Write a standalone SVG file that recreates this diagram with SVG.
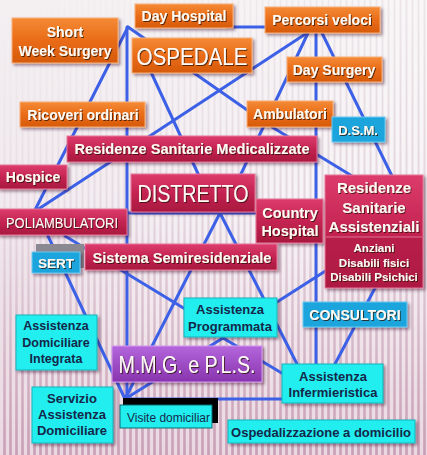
<svg xmlns="http://www.w3.org/2000/svg" width="427" height="455" viewBox="0 0 427 455">
<defs>
  <linearGradient id="bg" x1="0" y1="0" x2="0" y2="1">
    <stop offset="0" stop-color="#f4f0f2"/>
    <stop offset="0.45" stop-color="#ede3e9"/>
    <stop offset="1" stop-color="#d0a8bd"/>
  </linearGradient>
  <pattern id="stripes" width="6" height="10" patternUnits="userSpaceOnUse">
    <rect x="0" y="0" width="3" height="10" fill="#ffffff" fill-opacity="0.55"/>
    <rect x="4" y="0" width="1" height="10" fill="#6a5060" fill-opacity="0.08"/>
  </pattern>
  <linearGradient id="mg" x1="0" y1="0" x2="0.7" y2="1">
    <stop offset="0" stop-color="#000"/>
    <stop offset="0.35" stop-color="#888"/>
    <stop offset="0.6" stop-color="#fff"/>
  </linearGradient>
  <mask id="m">
    <rect width="427" height="455" fill="url(#mg)"/>
  </mask>
  <linearGradient id="og" x1="0" y1="0" x2="0" y2="1">
    <stop offset="0" stop-color="#f48a36"/>
    <stop offset="0.5" stop-color="#ea6c18"/>
    <stop offset="1" stop-color="#d65a0c"/>
  </linearGradient>
  <linearGradient id="cg" x1="0" y1="0" x2="0" y2="1">
    <stop offset="0" stop-color="#dc3c6c"/>
    <stop offset="0.5" stop-color="#c42452"/>
    <stop offset="1" stop-color="#a8183e"/>
  </linearGradient>
  <linearGradient id="pg" x1="0" y1="0" x2="0" y2="1">
    <stop offset="0" stop-color="#b466dc"/>
    <stop offset="1" stop-color="#8834ae"/>
  </linearGradient>
  <filter id="sh" x="-10%" y="-10%" width="130%" height="140%">
    <feDropShadow dx="2" dy="2" stdDeviation="1.5" flood-color="#301020" flood-opacity="0.45"/>
  </filter>
  <filter id="ts" x="-5%" y="-20%" width="110%" height="150%">
    <feDropShadow dx="1" dy="1" stdDeviation="0.4" flood-color="#2a0a00" flood-opacity="0.75"/>
  </filter>
  <style>
    .orange { fill: url(#og); stroke: #f8b07a; stroke-width: 1; filter: url(#sh); }
    .crimson { fill: url(#cg); stroke: #e8789a; stroke-width: 1; filter: url(#sh); }
    .cyan { fill: #22eef0; stroke: #17b4bc; stroke-width: 1; filter: url(#sh); }
    .blue { fill: #1ea4dc; stroke: #6ccaf2; stroke-width: 1; filter: url(#sh); }
    .purple { fill: url(#pg); stroke: #d49af0; stroke-width: 1; filter: url(#sh); }
    .wt { font-family: "Liberation Sans", Arial, sans-serif; font-weight: bold; fill: #fffaf2; text-anchor: middle; filter: url(#ts); }
    .big { font-family: "Liberation Sans", Arial, sans-serif; font-weight: normal; fill: #fffaf6; text-anchor: middle; filter: url(#ts); }
    .nt { font-family: "Liberation Sans", Arial, sans-serif; font-weight: bold; fill: #14284a; text-anchor: middle; }
    .conn line { stroke: #3c60e6; stroke-width: 3; stroke-linecap: round; }
  </style>
</defs>

<rect width="427" height="455" fill="url(#bg)"/>
<rect width="427" height="455" fill="url(#stripes)" mask="url(#m)"/>

<g id="connectors" class="conn">
  <line x1="128" y1="27" x2="35" y2="210"/>
  <line x1="127" y1="27" x2="127" y2="400"/>
  <line x1="128" y1="27" x2="250" y2="112"/>
  <line x1="228" y1="27" x2="270" y2="27"/>
  <line x1="150" y1="70" x2="200" y2="178"/>
  <line x1="307" y1="33" x2="37" y2="210"/>
  <line x1="308" y1="33" x2="240" y2="176"/>
  <line x1="316" y1="33" x2="316" y2="364"/>
  <line x1="322" y1="33" x2="392" y2="176"/>
  <line x1="272" y1="127" x2="352" y2="176"/>
  <line x1="127" y1="213" x2="257" y2="213"/>
  <line x1="220" y1="213" x2="125" y2="399"/>
  <line x1="220" y1="213" x2="297" y2="364"/>
  <line x1="65" y1="236" x2="190" y2="312"/>
  <line x1="48" y1="236" x2="125" y2="399"/>
  <line x1="223" y1="338" x2="125" y2="399"/>
  <line x1="223" y1="338" x2="285" y2="375"/>
  <line x1="125" y1="399" x2="284" y2="399"/>
  <line x1="277" y1="302" x2="327" y2="270"/>
  <line x1="375" y1="288" x2="335" y2="364"/>
</g>

<g id="short-week-surgery">
  <rect class="orange" x="12" y="18" width="106" height="45"/>
  <text class="wt" x="65" y="37" font-size="14">Short</text>
  <text class="wt" x="65" y="56" font-size="14">Week Surgery</text>
</g>
<g id="day-hospital">
  <rect class="orange" x="135" y="4" width="98" height="24"/>
  <text class="wt" x="184" y="21" font-size="14">Day Hospital</text>
</g>
<g id="ospedale">
  <rect class="orange" x="132" y="38" width="120" height="35"/>
  <text class="big" x="192" y="65" font-size="24" textLength="111" lengthAdjust="spacingAndGlyphs">OSPEDALE</text>
</g>
<g id="percorsi-veloci">
  <rect class="orange" x="265" y="7" width="115" height="26"/>
  <text class="wt" x="322" y="25" font-size="14">Percorsi veloci</text>
</g>
<g id="day-surgery">
  <rect class="orange" x="287" y="57" width="95" height="25"/>
  <text class="wt" x="334" y="75" font-size="14">Day Surgery</text>
</g>
<g id="ricoveri-ordinari">
  <rect class="orange" x="20" y="102" width="125" height="25"/>
  <text class="wt" x="83" y="120" font-size="14">Ricoveri ordinari</text>
</g>
<g id="ambulatori">
  <rect class="orange" x="247" y="101" width="86" height="26"/>
  <text class="wt" x="290" y="119" font-size="14">Ambulatori</text>
</g>
<g id="dsm">
  <rect class="blue" x="332" y="117" width="53" height="25"/>
  <text class="wt" x="358" y="135" font-size="13">D.S.M.</text>
</g>
<g id="residenze-sanitarie-medicalizzate">
  <rect class="crimson" x="67" y="136" width="250" height="26"/>
  <text class="wt" x="192" y="154" font-size="14.5" textLength="235" lengthAdjust="spacingAndGlyphs">Residenze Sanitarie Medicalizzate</text>
</g>
<g id="hospice">
  <rect class="crimson" x="-2" y="165" width="69" height="24"/>
  <text class="wt" x="33" y="182" font-size="14">Hospice</text>
</g>
<g id="distretto">
  <rect class="crimson" x="131" y="174" width="124" height="38"/>
  <text class="big" x="193" y="202" font-size="24" textLength="111" lengthAdjust="spacingAndGlyphs">DISTRETTO</text>
</g>
<g id="country-hospital">
  <rect class="crimson" x="256" y="199" width="67" height="44"/>
  <text class="wt" x="290" y="218" font-size="14.5">Country</text>
  <text class="wt" x="290" y="236" font-size="14.5">Hospital</text>
</g>
<g id="residenze-sanitarie-assistenziali">
  <rect class="crimson" x="325" y="175" width="98" height="113"/>
  <rect x="326" y="237" width="96" height="50" fill="#b01c46" fill-opacity="0.6"/>
  <line x1="326" y1="237" x2="422" y2="237" stroke="#e07090" stroke-width="1"/>
  <text class="wt" x="374" y="193" font-size="15">Residenze</text>
  <text class="wt" x="374" y="213" font-size="15">Sanitarie</text>
  <text class="wt" x="374" y="232" font-size="15">Assistenziali</text>
  <text class="wt" x="374" y="252" font-size="11.5">Anziani</text>
  <text class="wt" x="374" y="267" font-size="11.5">Disabili fisici</text>
  <text class="wt" x="374" y="281" font-size="11.5">Disabili Psichici</text>
</g>
<g id="poliambulatori">
  <rect class="crimson" x="-2" y="209" width="129" height="26"/>
  <text class="big" x="62" y="228" font-size="15" textLength="112" lengthAdjust="spacingAndGlyphs">POLIAMBULATORI</text>
</g>
<g id="sert">
  <rect x="36" y="244" width="48" height="24" fill="#8a8890"/>
  <rect class="blue" x="32" y="252" width="48" height="21"/>
  <text class="wt" x="56" y="268" font-size="13.5">SERT</text>
</g>
<g id="sistema-semiresidenziale">
  <rect class="crimson" x="85" y="244" width="192" height="26"/>
  <text class="wt" x="182" y="263" font-size="14.5" textLength="179" lengthAdjust="spacingAndGlyphs">Sistema Semiresidenziale</text>
</g>
<g id="assistenza-programmata">
  <rect class="cyan" x="184" y="298" width="93" height="39"/>
  <text class="nt" x="230" y="314" font-size="13">Assistenza</text>
  <text class="nt" x="230" y="331" font-size="13">Programmata</text>
</g>
<g id="consultori">
  <rect class="blue" x="303" y="302" width="104" height="25"/>
  <text class="wt" x="355" y="320" font-size="14">CONSULTORI</text>
</g>
<g id="assistenza-domiciliare-integrata">
  <rect class="cyan" x="16" y="315" width="81" height="55"/>
  <text class="nt" x="56" y="330" font-size="12.5">Assistenza</text>
  <text class="nt" x="56" y="347" font-size="12.5">Domiciliare</text>
  <text class="nt" x="56" y="363" font-size="12.5">Integrata</text>
</g>
<g id="mmg-pls">
  <rect class="purple" x="112" y="346" width="150" height="36"/>
  <text class="big" x="187" y="373" font-size="24" textLength="137" lengthAdjust="spacingAndGlyphs">M.M.G. e P.L.S.</text>
</g>
<g id="assistenza-infermieristica">
  <rect class="cyan" x="282" y="364" width="101" height="39"/>
  <text class="nt" x="333" y="381" font-size="13">Assistenza</text>
  <text class="nt" x="333" y="397" font-size="13">Infermieristica</text>
</g>
<g id="servizio-assistenza-domiciliare">
  <rect class="cyan" x="32" y="387" width="81" height="56"/>
  <text class="nt" x="72" y="403" font-size="13">Servizio</text>
  <text class="nt" x="72" y="419" font-size="13">Assistenza</text>
  <text class="nt" x="72" y="435" font-size="13">Domiciliare</text>
</g>
<g id="visite-domiciliari">
  <rect x="123" y="398" width="95" height="25" fill="#000"/>
  <rect x="120" y="405" width="92" height="23" fill="#22eef0" stroke="#0e6a72" stroke-width="1"/>
  <text x="127" y="422" font-family="'Liberation Sans', Arial, sans-serif" font-size="12.5" fill="#14284a" textLength="83" lengthAdjust="spacingAndGlyphs">Visite domiciliar</text>
</g>
<g id="ospedalizzazione-a-domicilio">
  <rect class="cyan" x="228" y="420" width="187" height="23"/>
  <text class="nt" x="321" y="437" font-size="13">Ospedalizzazione a domicilio</text>
</g>
</svg>
